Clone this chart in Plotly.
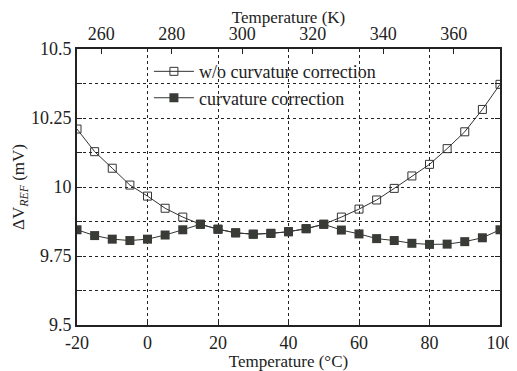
import plotly.graph_objects as go

temp_c = [-20, -15, -10, -5, 0, 5, 10, 15, 20, 25, 30, 35, 40, 45, 50, 55, 60, 65, 70, 75, 80, 85, 90, 95, 100]
without_corr = [10.21, 10.128, 10.068, 10.007, 9.967, 9.923, 9.891, 9.865, 9.847, 9.834, 9.829, 9.832, 9.838, 9.849, 9.865,
                9.891, 9.920, 9.953, 9.995, 10.040, 10.082, 10.139, 10.200, 10.281, 10.372]
with_corr = [9.845, 9.824, 9.811, 9.806, 9.811, 9.826, 9.845, 9.865, 9.847, 9.834, 9.829, 9.832, 9.838, 9.849, 9.865,
             9.844, 9.830, 9.813, 9.806, 9.796, 9.792, 9.793, 9.802, 9.816, 9.845]
x_ticks = [-20, 0, 20, 40, 60, 80, 100]
x_labels = ["-20", "0", "20", "40", "60", "80", "100"]
k_ticks = [260, 280, 300, 320, 340, 360]
k_labels = ["260", "280", "300", "320", "340", "360"]
y_ticks = [9.5, 9.75, 10, 10.25, 10.5]
y_labels = ["9.5", "9.75", "10", "10.25", "10.5"]

FONT = "Times New Roman"
TF = dict(family=FONT, size=18, color="#222222")
TT = dict(family=FONT, size=17, color="#222222")
fig = go.Figure()
fig.add_trace(go.Scatter(
    x=temp_c, y=without_corr, mode="lines+markers", name="w/o curvature correction",
    line=dict(color="#333333", width=1),
    marker=dict(symbol="square-open", size=8, color="#333333", line=dict(width=1, color="#333333")),
))
fig.add_trace(go.Scatter(
    x=temp_c, y=with_corr, mode="lines+markers", name="curvature correction",
    line=dict(color="#333333", width=1),
    marker=dict(symbol="square", size=9, color="#383b36"),
))
fig.add_trace(go.Scatter(x=[253.15, 373.15], y=[9.5, 9.5], xaxis="x2", mode="lines",
                         line=dict(width=0), showlegend=False, hoverinfo="skip"))

fig.update_layout(
    template="none",
    width=509, height=363,
    margin=dict(l=69, r=17, t=41, b=46, autoexpand=False),
    paper_bgcolor="white", plot_bgcolor="white",
    font=TF,
    showlegend=True,
    legend=dict(x=0.17, y=0.985, xanchor="left", yanchor="top", bgcolor="rgba(0,0,0,0)",
                font=TF, tracegroupgap=0, itemwidth=40),
    xaxis=dict(range=[-20, 100], tickmode="array", tickvals=x_ticks, ticktext=x_labels, ticks="inside", ticklen=5,
               tickcolor="#222", showline=True, linecolor="#222", linewidth=2, mirror=False, automargin=False,
               showgrid=True, gridcolor="#222", griddash="dot", gridwidth=1, zeroline=False,
               title=dict(text="Temperature (\u00b0C)", standoff=1, font=TT),
               tickfont=TF),
    xaxis2=dict(range=[253.15, 373.15], overlaying="x", side="top", tickmode="array", tickvals=k_ticks,
                ticktext=k_labels, automargin=False,
                ticks="inside", ticklen=5, tickcolor="#222", showline=True, linecolor="#222", linewidth=2,
                showgrid=False, zeroline=False,
                title=dict(text="Temperature (K)", standoff=1, font=TT),
                tickfont=TF),
    yaxis=dict(range=[9.5, 10.5], tickmode="array", tickvals=y_ticks, ticktext=y_labels, ticks="inside", ticklen=5,
               automargin=False,
               tickcolor="#222", showline=True, linecolor="#222", linewidth=2, mirror="ticks",
               showgrid=True, gridcolor="#222", griddash="dot", gridwidth=1, zeroline=False,
               minor=dict(dtick=0.125, showgrid=True, gridcolor="#222", griddash="dot", gridwidth=1,
                          ticks="inside", ticklen=5, tickcolor="#222"),
               title=dict(text="\u0394V<sub><i>REF</i></sub> (mV)", standoff=2, font=TT),
               tickfont=TF),
)
fig.write_html("out.html")
